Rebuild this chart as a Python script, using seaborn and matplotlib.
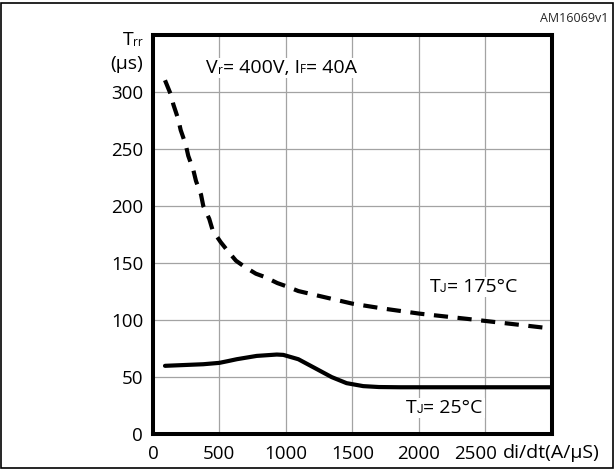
import matplotlib
matplotlib.use("Agg")
import matplotlib.pyplot as plt
import seaborn as sns
import pandas as pd
from matplotlib.patches import Rectangle
from matplotlib.transforms import IdentityTransform, Bbox, ScaledTranslation

# Data
x_175 = [91, 134, 154, 191, 209, 247, 266, 304, 324, 362, 379, 424, 450, 510, 560, 625,
         693, 775, 843, 936, 1006, 1094, 1233, 1502, 1735, 2004, 2363, 2739, 2940]
y_175 = [310.3, 298, 289, 276, 266.6, 253.8, 244, 231.6, 222, 210, 200, 188.7, 178.5, 168.3,
         161, 152, 146.4, 140.6, 137.7, 132.4, 129.5, 125.4, 121.6, 114.3, 110, 105.6, 101, 96, 93.3]
x_25 = [91, 379, 500, 567, 631, 781, 932, 981, 1094, 1219, 1345, 1457, 1582, 1700, 1860, 3000]
y_25 = [59.8, 61.2, 62.4, 64, 65.6, 68.5, 69.7, 69.4, 65.6, 57.8, 49.9, 44.6, 42, 41.2, 41, 41]
x_ticks = [0, 500, 1000, 1500, 2000, 2500]
y_ticks = [0, 50, 100, 150, 200, 250, 300]

sns.set_theme(style="white")
plt.rcParams['font.family'] = ['Open Sans', 'DejaVu Sans']

W, H = 615, 469
fig = plt.figure(figsize=(W / 100, H / 100), dpi=100)
ax = fig.add_axes([152.9 / W, 1 - 434 / H, 398.8 / W, 399 / H])

df175 = pd.DataFrame({"x": x_175, "y": y_175})
df25 = pd.DataFrame({"x": x_25, "y": y_25})
sns.lineplot(data=df175, x="x", y="y", ax=ax, color="black", lw=3.0,
             linestyle=(0, (3.4, 2.3)), zorder=3)
sns.lineplot(data=df25, x="x", y="y", ax=ax, color="black", lw=3.0, zorder=3)
for ln in ax.lines:
    ln.set_solid_joinstyle('round')
    ln.set_dash_joinstyle('round')

ax.set_xlim(0, 3000)
ax.set_ylim(0, 350)
ax.set_xticks(x_ticks)
ax.set_yticks(y_ticks)
TICK_FS = 13.5
ax.set_xticklabels([str(v) for v in x_ticks], fontsize=TICK_FS)
ax.set_yticklabels([str(v) for v in y_ticks], fontsize=TICK_FS)
ax.tick_params(axis='both', length=0, colors='black')
ax.tick_params(axis='y', pad=7)
ax.tick_params(axis='x', pad=8)
last = ax.get_xticklabels()[-1]
last.set_transform(last.get_transform() + ScaledTranslation(-7 / 72, 0, fig.dpi_scale_trans))
ax.set_xlabel("")
ax.set_ylabel("")
ax.grid(True, color="#a3a3a3", lw=0.9)
for s in ax.spines.values():
    s.set_linewidth(2.9)
    s.set_color("black")
    s.set_zorder(5)

renderer = fig.canvas.get_renderer()
TXT_FS = 14
SUB_FS = 8.5


def rich_text(x, y, parts, transform, ha='left', background=False):
    X0, Y0 = transform.transform((x, y))
    X = X0
    texts = []
    for s, size, dy, fam in parts:
        kw = {} if fam is None else {"family": fam}
        t = fig.text(X, Y0 + dy, s, fontsize=size, transform=IdentityTransform(),
                     ha='left', va='baseline', zorder=4, color='black', **kw)
        ext = t.get_window_extent(renderer)
        texts.append((t, X, Y0 + dy))
        X = ext.x1
    if ha == 'right':
        shift = -(X - X0)
        for t, px, py in texts:
            t.set_position((px + shift, py))
    if background:
        bb = Bbox.union([t.get_window_extent(renderer) for t, _, _ in texts])
        fig.patches.append(Rectangle((bb.x0 - 2, bb.y0 - 1), bb.width + 4, bb.height + 2,
                                     transform=IdentityTransform(), facecolor='white',
                                     edgecolor='none', zorder=3.5))


rich_text(400, 317, [("V", TXT_FS, 0, None), ("r", SUB_FS, -1, None),
                     ("= 400V, I", TXT_FS, 0, None), ("F", SUB_FS, 0, None),
                     ("= 40A", TXT_FS, 0, None)], ax.transData, background=True)
rich_text(2080, 124.5, [("T", TXT_FS, 0, None), ("J", SUB_FS, 0, ["Roboto"]),
                        ("= 175°C", TXT_FS, 0, None)], ax.transData, background=True)
rich_text(1905, 18.6, [("T", TXT_FS, 0, None), ("J", SUB_FS, 0, ["Roboto"]),
                       ("= 25°C", TXT_FS, 0, None)], ax.transData, background=True)

fig_tr = fig.transFigure
rich_text(143 / W, 1 - 45 / H, [("T", TXT_FS, 0, None), ("rr", SUB_FS, -1, None)], fig_tr, ha='right')
rich_text(143 / W, 1 - 69 / H, [("(µs)", TXT_FS, 0, None)], fig_tr, ha='right')
rich_text(503 / W, 1 - 458 / H, [("di/dt(A/µS)", TXT_FS, 0, None)], fig_tr)
fig.text(608 / W, 1 - 18 / H, "AM16069v1", fontsize=9, ha="right", va="center")

fig.patches.append(Rectangle((1 / W, 1 / H), 612 / W, 465 / H, transform=fig.transFigure,
                             fill=False, edgecolor="black", lw=1.2))

fig.savefig("out.png", dpi=100)
